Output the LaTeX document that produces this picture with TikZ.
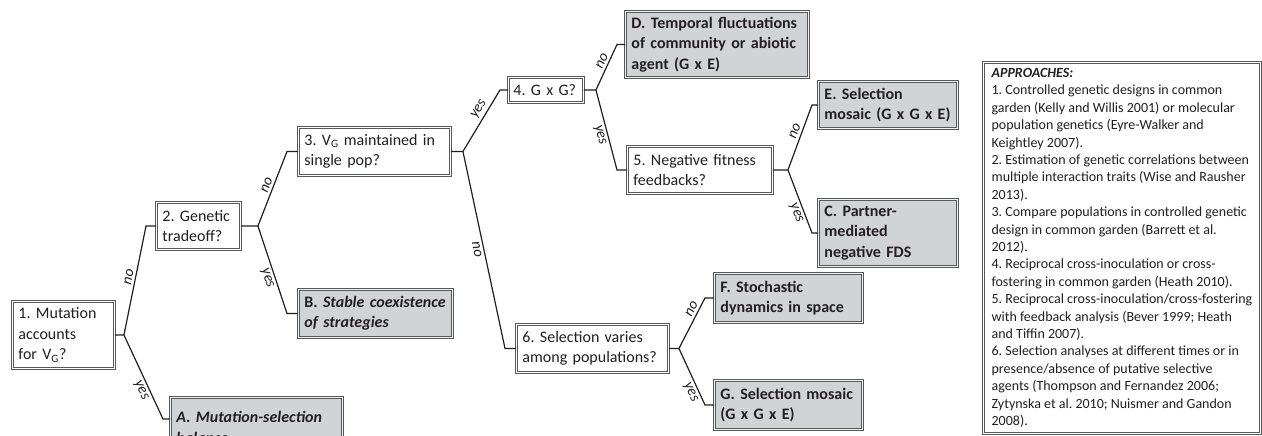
\documentclass[tikz,border=0pt]{standalone}
\usepackage{fontspec}
\setmainfont{Carlito}
\definecolor{txt}{HTML}{231F20}
\definecolor{bord}{HTML}{58595B}
\definecolor{boxfill}{HTML}{D1D3D4}
\begin{document}
\frenchspacing
\begin{tikzpicture}[x=1pt,y=-1pt,
  qbox/.style={draw=bord, line width=0.95pt, double=white, double distance=1.1pt, fill=white,
    align=left, anchor=north west, inner xsep=6pt, inner ysep=0pt, text=txt,
    font=\fontsize{16}{20.5}\selectfont},
  rbox/.style={qbox, fill=boxfill, double=boxfill!30!white,
    font=\fontsize{16}{20.5}\selectfont\bfseries},
  wire/.style={draw=txt, line width=1.2pt},
  lab/.style={font=\fontsize{15}{15}\selectfont\itshape, text=txt, inner sep=2.5pt},
]
\useasboundingbox (0,0) rectangle (1262,436);
\clip (0,0) rectangle (1262,436);

% question boxes
\node[qbox, minimum width=102pt, minimum height=67pt, text width=90pt] (n1) at (12,301) {1. Mutation\\accounts\\for V\textsubscript{G}?};
\node[qbox, minimum width=84pt, minimum height=47pt, text width=72pt] (n2) at (156,202) {2. Genetic\\tradeoff?};
\node[qbox, minimum width=152pt, minimum height=48pt, text width=140pt] (n3) at (298,127) {3. V\textsubscript{G} maintained in\\single pop?};
\node[qbox, minimum width=75pt, minimum height=25pt, text width=65pt, inner xsep=5pt] (n4) at (508,77) {\mbox{4. G x G?}};
\node[qbox, minimum width=145pt, minimum height=47pt, text width=133pt] (n5) at (627,146) {5. Negative fitness\\feedbacks?};
\node[qbox, minimum width=152pt, minimum height=48pt, text width=140pt] (n6) at (516,324) {6. Selection varies\\among populations?};

% outcome boxes
\node[rbox, minimum width=172pt, minimum height=60pt, text width=160pt] (nA) at (170,397) {\textit{A. Mutation-selection}\\\textit{balance}};
\node[rbox, minimum width=154pt, minimum height=48pt, text width=142pt] (nB) at (298,289) {B. \textit{Stable coexistence}\\\textit{of strategies}};
\node[rbox, minimum width=183pt, minimum height=66pt, text width=171pt] (nD) at (625,11) {D. Temporal fluctuations\\of community or abiotic\\agent (G x E)};
\node[rbox, minimum width=139pt, minimum height=47pt, text width=127pt] (nE) at (818,81) {E. Selection\\mosaic (G x G x E)};
\node[rbox, minimum width=139pt, minimum height=67pt, text width=127pt] (nC) at (818,199) {C. Partner-\\mediated\\negative FDS};
\node[rbox, minimum width=148pt, minimum height=49pt, text width=136pt] (nF) at (714,273) {F. Stochastic\\dynamics in space};
\node[rbox, minimum width=148pt, minimum height=49pt, text width=136pt] (nG) at (714,380) {G. Selection mosaic\\(G x G x E)};

% approaches box
\node[qbox, minimum width=277pt, minimum height=371pt, font=\fontsize{14}{17.4}\selectfont] (nP) at (983,62) {\textbf{\textit{APPROACHES:}}\\
1. Controlled genetic designs in common\\
garden (Kelly and Willis 2001) or molecular\\
population genetics (Eyre-Walker and\\
Keightley 2007).\\
2. Estimation of genetic correlations between\\
multiple interaction traits (Wise and Rausher\\
2013).\\
3. Compare populations in controlled genetic\\
design in common garden (Barrett et al.\\
2012).\\
4. Reciprocal cross-inoculation or cross-\\
fostering in common garden (Heath 2010).\\
5. Reciprocal cross-inoculation/cross-fostering\\
with feedback analysis (Bever 1999; Heath\\
and Tiffin 2007).\\
6. Selection analyses at different times or in\\
presence/absence of putative selective\\
agents (Thompson and Fernandez 2006;\\
Zytynska et al. 2010; Nuismer and Gandon\\
2008).};

% junctions and corners
\coordinate (j1) at ([xshift=9pt]n1.east);
\coordinate (j2) at ([xshift=17pt]n2.east);
\coordinate (j3) at ([xshift=12pt]n3.east);
\coordinate (j4) at ([xshift=12pt]n4.east);
\coordinate (j5) at ([xshift=15pt]n5.east);
\coordinate (j6) at ([xshift=10pt]n6.east);
\coordinate (c2) at ([xshift=-10pt]n2.west);
\coordinate (cA) at ([xshift=-7pt,yshift=-22pt]nA.north west);
\coordinate (c3) at ([xshift=-11pt]n3.west);
\coordinate (cB) at ([xshift=-11pt]nB.west);
\coordinate (c4) at ([xshift=-8pt]n4.west);
\coordinate (c6) at ([xshift=-11pt]n6.west);
\coordinate (cD) at ([xshift=-8pt]nD.west);
\coordinate (c5) at ([xshift=-10pt]n5.west);
\coordinate (cE) at ([xshift=-6pt]nE.west);
\coordinate (cC) at ([xshift=-6pt]nC.west);
\coordinate (cF) at ([xshift=-9pt]nF.west);
\coordinate (cG) at ([xshift=-9pt]nG.west);

% connectors
\draw[wire] (n1.east) -- (j1) -- node[lab, above, sloped, pos=0.52]{no} (c2) -- (n2.west);
\draw[wire] (j1) -- node[lab, below, sloped, pos=0.62]{yes} (cA) -- (cA -| nA.west);
\draw[wire] (n2.east) -- (j2) -- node[lab, above, sloped, pos=0.52]{no} (c3) -- (n3.west);
\draw[wire] (j2) -- node[lab, below, sloped, pos=0.57]{yes} (cB) -- (nB.west);
\draw[wire] (n3.east) -- (j3) -- node[lab, above, sloped, pos=0.62]{yes} (c4) -- (n4.west);
\draw[wire] (j3) -- node[lab, below, sloped, pos=0.49]{no} (c6) -- (n6.west);
\draw[wire] (n4.east) -- (j4) -- node[lab, above, sloped, pos=0.58]{no} (cD) -- (nD.west);
\draw[wire] (j4) -- node[lab, below, sloped, pos=0.54]{yes} (c5) -- (n5.west);
\draw[wire] (n5.east) -- (j5) -- node[lab, above, sloped, pos=0.56]{no} (cE) -- (nE.west);
\draw[wire] (j5) -- node[lab, below, sloped, pos=0.64]{yes} (cC) -- (nC.west);
\draw[wire] (n6.east) -- (j6) -- node[lab, above, sloped, pos=0.72]{no} (cF) -- (nF.west);
\draw[wire] (j6) -- node[lab, below, sloped, pos=0.72]{yes} (cG) -- (nG.west);
\end{tikzpicture}
\end{document}
